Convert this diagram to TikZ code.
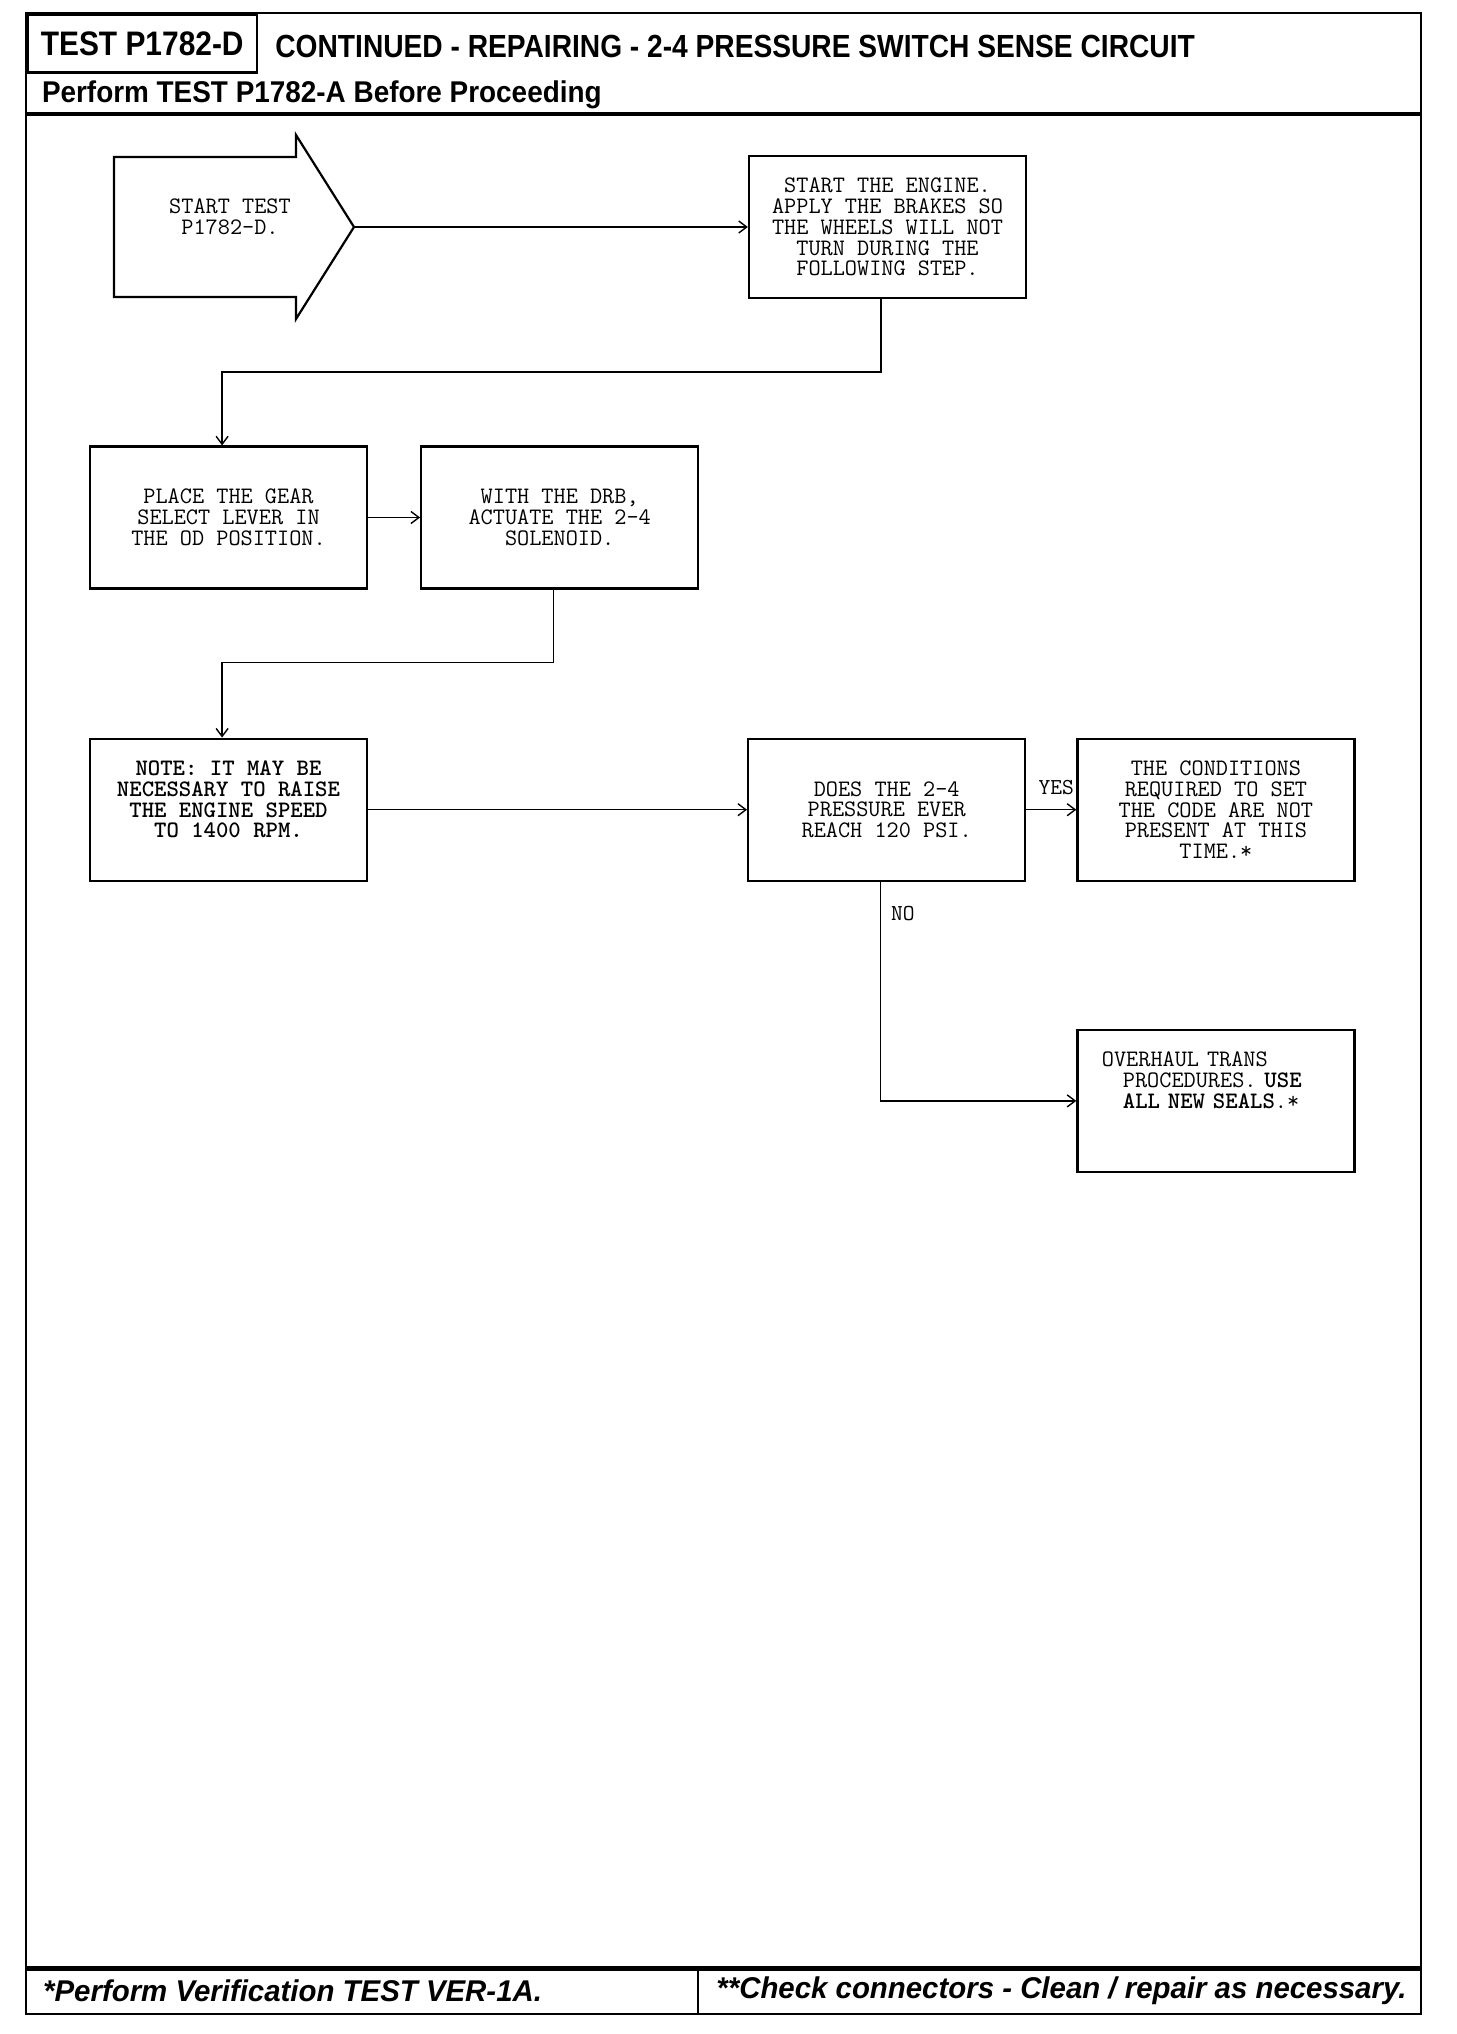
\documentclass[tikz,border=0pt]{standalone}
\usepackage{fontspec}
\setmainfont{Liberation Sans}
\newfontfamily\headfont{Liberation Sans}[FakeStretch=0.88]
\newfontfamily\subheadfont{Liberation Sans}[FakeStretch=0.93]
\newfontfamily\footfont{Liberation Sans}[FakeStretch=0.98]
\usetikzlibrary{arrows.meta, positioning}

\begin{document}
\begin{tikzpicture}[
    x=1pt, y=1pt,
    stepbox/.style={
            draw,
            line width=1.1pt,
            minimum width=138.5pt,
            minimum height=71pt,
            inner sep=2pt,
            align=center,
            font=\ttfamily\fontsize{11.8}{10.4}\selectfont
        },
    notebox/.style={stepbox, font=\ttfamily\bfseries\fontsize{11.8}{10.4}\selectfont},
    arrow/.style={-{Straight Barb[length=4pt, width=6pt]}, line width=0.7pt},
    branch_label/.style={inner sep=0pt, font=\ttfamily\fontsize{11.4}{11.4}\selectfont},
    outer_frame/.style={line width=1.4pt},
    heavy_rule/.style={line width=2.2pt},
    header_text/.style={inner sep=0pt, font=\headfont\bfseries\fontsize{16}{16}\selectfont},
    footer_text/.style={inner sep=0pt, anchor=west, font=\footfont\bfseries\itshape\fontsize{15}{15}\selectfont}
    ]
    \useasboundingbox (0,0) rectangle (728,-1017);

    % --- Page frame ---
    \draw[outer_frame] (13,-6.5) rectangle (710.5,-1007);
    \draw[heavy_rule] (13,-57) -- (710.5,-57);
    \draw[heavy_rule] (13,-984.3) -- (710.5,-984.3);
    \draw[outer_frame] (349,-984.3) -- (349,-1007);

    % --- Header ---
    \node (test_id) [header_text, draw, line width=1.4pt, minimum width=114.8pt, minimum height=29.2pt, anchor=north west, font=\headfont\bfseries\fontsize{17}{17}\selectfont] at (13,-6.5) {TEST P1782-D};
    \node (title) [header_text, anchor=west] at (137.5,-23.4) {CONTINUED - REPAIRING - 2-4 PRESSURE SWITCH SENSE CIRCUIT};
    \node (prereq) [header_text, anchor=west, font=\subheadfont\bfseries\fontsize{15}{15}\selectfont] at (20.8,-47.5) {Perform TEST P1782-A Before Proceeding};

    % --- Start ---
    \draw[line width=1.1pt] (57,-78.5) -- (148,-78.5) -- (148,-67.5) -- (177,-113.5)
        -- (148,-159.5) -- (148,-148.5) -- (57,-148.5) -- cycle;
    \coordinate (start_tip) at (177,-113.5);
    \node (start) [align=center, inner sep=0pt, font=\ttfamily\fontsize{11.8}{10.4}\selectfont] at (115,-113.5) {START TEST\\P1782-D.\\~};

    % --- Steps ---
    \node (engine) [stepbox] at (443.75,-113.5) {START THE ENGINE.\\APPLY THE BRAKES SO\\THE WHEELS WILL NOT\\TURN DURING THE\\FOLLOWING STEP.};
    \node (gear) [stepbox] at (114.25,-258.75) {PLACE THE GEAR\\SELECT LEVER IN\\THE OD POSITION.};
    \node (drb) [stepbox, right=26pt of gear] {WITH THE DRB,\\ACTUATE THE 2-4\\SOLENOID.};
    \node (note) [notebox, below=74pt of gear] {NOTE: IT MAY BE\\NECESSARY TO RAISE\\THE ENGINE SPEED\\TO 1400 RPM.\\~};
    \node (pressure) [stepbox, right=189.5pt of note] {DOES THE 2-4\\PRESSURE EVER\\REACH 120 PSI.};
    \node (conditions) [stepbox, right=25pt of pressure] {THE CONDITIONS\\REQUIRED TO SET\\THE CODE ARE NOT\\PRESENT AT THIS\\TIME.*};
    \node (overhaul) [stepbox, align=left, text width=114pt, below=73.5pt of conditions] {OVERHAUL TRANS\\\hspace*{10.5pt}PROCEDURES. \textbf{USE}\\\hspace*{10.5pt}\textbf{ALL NEW SEALS}.*\\~\\~};

    % --- Arrows ---
    \draw[arrow] (start_tip) -- (engine);
    \draw[arrow] ([xshift=-3.2pt]engine.south) -- ++(0,-36.5) -| ([xshift=-3.2pt]gear.north);
    \draw[arrow] (gear) -- (drb);
    \draw[arrow] ([xshift=-3.2pt]drb.south) -- ++(0,-36.5) -| ([xshift=-3.2pt]note.north);
    \draw[arrow] (note) -- (pressure);
    \draw[arrow] (pressure) -- node[branch_label, above=7pt, xshift=2.5pt] {YES} (conditions);
    \draw[arrow] ([xshift=-3.2pt]pressure.south) |- node[branch_label, pos=0.072, anchor=west, xshift=5pt] {NO} (overhaul.west);

    % --- Footer ---
    \node (verify) [footer_text] at (21.4,-995.6) {*Perform Verification TEST VER-1A.};
    \node (connectors) [footer_text] at (358,-995.6) {**Check connectors - Clean / repair as necessary.};

\end{tikzpicture}
\end{document}
